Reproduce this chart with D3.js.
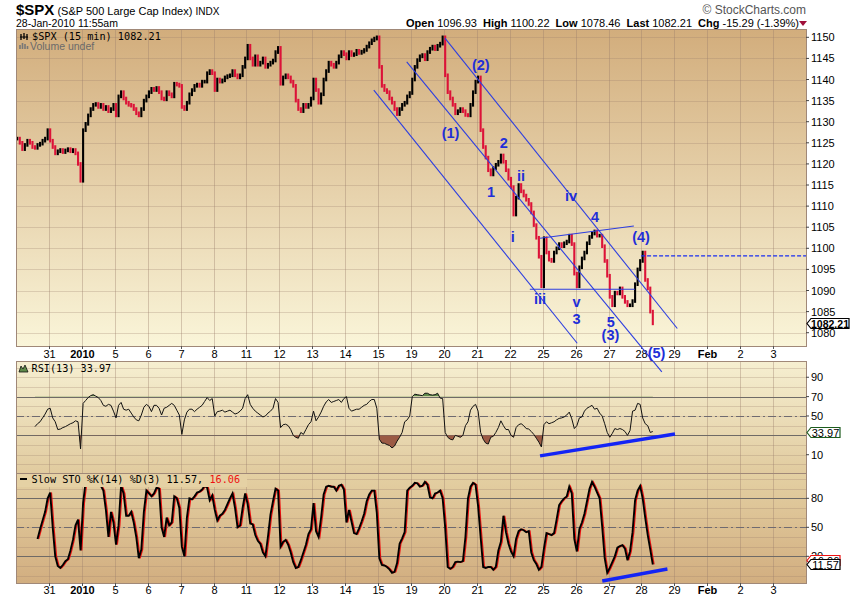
<!DOCTYPE html>
<html lang="en">
<head>
<meta charset="UTF-8">
<title>$SPX 15 min</title>
<style>
  body { margin: 0; background: #fff; }
  svg text { font-family: Arial, "Liberation Sans", sans-serif; }
  .mono { font-family: "DejaVu Sans Mono", monospace; font-size: 10.2px; }
</style>
</head>
<body>
<script src="https://d3js.org/d3.v7.min.js"></script>
<script>
// x axis: trading days from Dec 30 to Feb 3 (24 sessions), label at each session start
const tickLabels = ["31","2010","5","6","7","8","11","12","13","14","15","19","20","21","22","25","26","27","28","29","Feb","2","3"];
const boldTicks = ["2010", "Feb"];
const sessions = 24;
const perDay = 13; // half-hour closes per session

// closes, one row per session (Dec 30 ... Jan 28 11:55)
const closes = [
  1126, 1125, 1123.5, 1124.5, 1125.5, 1125, 1124, 1123.8, 1124.5, 1124.8, 1125.5, 1126, 1128,
  1125.5, 1124, 1122.5, 1123, 1123.3, 1122.8, 1123.2, 1123.5, 1123, 1123.3, 1122.5, 1120, 1116,
  1128, 1129.5, 1131.5, 1133, 1134, 1134.2, 1133.5, 1134, 1133, 1133.5, 1132.5, 1133, 1134,
  1131.5, 1136, 1137, 1135.5, 1134.5, 1134, 1133.8, 1133, 1132, 1131.5, 1133, 1135, 1136,
  1137, 1137.8, 1137.5, 1138, 1137, 1135.5, 1135.3, 1137, 1136.5, 1136, 1139, 1138.8, 1138.5,
  1133.5, 1133, 1134.5, 1136.5, 1137.5, 1138.5, 1138.8, 1138.5, 1139.5, 1139.5, 1141.5, 1142, 1141.5,
  1137.5, 1140, 1139.5, 1139.8, 1140.5, 1140.8, 1141, 1142, 1141, 1140.5, 1141, 1143, 1145,
  1148, 1145, 1143.5, 1145.5, 1143.5, 1144, 1145, 1143, 1143.5, 1144, 1144.5, 1146.5, 1147.5,
  1139, 1140.5, 1141, 1140.5, 1139.5, 1138.5, 1135, 1133, 1132.5, 1134, 1133.5, 1134, 1135.5,
  1140, 1137.5, 1134.5, 1136.5, 1140, 1142, 1144, 1143.5, 1143, 1144, 1145.5, 1146.5, 1146,
  1145, 1146.5, 1145.8, 1146, 1146.8, 1146.3, 1146.6, 1147, 1147.8, 1148.6, 1149.3, 1149.7, 1150,
  1143, 1138.5, 1137.5, 1137, 1135.5, 1134.5, 1133, 1131.8, 1133, 1134, 1134.5, 1136, 1136.8,
  1140, 1143, 1144.6, 1145.5, 1145.8, 1144.8, 1146.5, 1147.3, 1147.8, 1147.2, 1148, 1148.5, 1150,
  1141, 1137, 1135.5, 1134, 1132, 1132.5, 1133, 1132.5, 1131.6, 1131.5, 1134, 1137, 1139.5,
  1140.5, 1128, 1124, 1121.5, 1118.5, 1117.5, 1119, 1119.8, 1120.5, 1122, 1120.5, 1118.5, 1116.5,
  1114.5, 1108, 1112, 1115, 1113.5, 1112.5, 1111.5, 1110.5, 1108.5, 1105.5, 1102.5, 1098, 1091,
  1102.4, 1099, 1097.3, 1097, 1099, 1100, 1101, 1100.5, 1101.2, 1101.6, 1103, 1101, 1094,
  1091, 1095.5, 1097.6, 1099, 1101.2, 1102.7, 1103.5, 1104, 1103, 1103, 1100.5, 1097, 1093.5,
  1088.5, 1086.5, 1089.5, 1089.3, 1090.5, 1088.5, 1087.3, 1086.5, 1086.5, 1087.5, 1091.5, 1095, 1097,
  1099, 1092.5, 1090.5, 1085, 1082.21
];

const rsi = [
  null, null, null, null, null, null, null, 39, 42, 44, 48, 52, 57,
  58, 48, 44, 36, 36.5, 38, 39, 40.5, 42, 43, 45, 44, 16,
  63, 66, 69, 71, 72, 70.5, 69, 66, 61, 60, 62, 61, 55,
  48, 61, 64, 57, 56, 57, 53, 49, 46, 45, 51, 59, 62,
  60, 54.5, 61, 61, 58, 51, 58, 59, 61, 63, 61, 56, 51,
  31, 46, 54, 57, 57, 54.5, 57, 59, 61, 65, 69, 66, 68,
  50, 54.5, 55, 56, 54, 55, 56, 54, 52, 53, 55, 58, 68,
  72, 62, 58, 55, 53, 51, 49, 50, 53, 55, 58, 68, 64,
  38, 41, 41.5, 40, 36, 30, 28, 27, 33, 31, 36, 41, 44,
  55, 45, 49, 54, 60, 64.5, 67, 64, 65, 66, 67, 64, 68,
  70, 58, 55, 56, 57, 57, 59, 61, 62, 65, 67, 67, 58,
  26, 22, 21.8, 20.5, 19.5, 17, 19, 24, 28, 33, 44, 46, 50,
  70, 72.5, 72, 71.5, 71, 73.5, 73.5, 72, 71.6, 72, 73.5, 68.5, 68,
  33, 28, 26, 25.3, 30, 29, 28, 30, 40, 44, 56, 60, 62,
  55, 33, 26, 22, 21, 28, 29, 33, 38, 45, 40, 36, 36,
  30, 28, 38, 41, 42, 40, 37, 36.5, 34, 31, 27, 23, 18,
  41, 44, 42, 43, 44, 46, 47.5, 48, 49, 51, 54, 47, 37,
  40, 48, 49, 55, 58, 59.5, 61, 57, 58, 53, 50, 42, 33,
  28, 32, 37, 36, 37, 36, 34, 30, 35, 55, 56, 63, 62,
  48, 42, 40, 33, 33.97
];

// slow stochastic %K
const stoK = [
  null, null, null, null, null, null, null, null, 38, 48, 57, 66, 80,
  86, 50, 20, 10, 8, 11, 15, 17, 26, 37, 52, 58, 26,
  75, 97, 99, 100, 99, 98, 96, 93, 88, 68, 40, 66, 55,
  32, 52, 93, 85, 62, 62, 66, 55, 40, 18, 27, 66, 88,
  85, 82, 85, 91, 90, 50, 40, 60, 52, 55, 82, 80, 70,
  30, 20, 60, 80, 79, 82, 86, 87, 89, 93, 91, 78, 83,
  68, 57, 62, 64, 68, 74, 80, 85, 70, 50, 52, 70, 85,
  74, 54, 53, 42, 36, 33, 24, 20, 40, 63, 77, 90, 88,
  30, 35, 37, 32, 24, 14, 8, 9, 16, 24, 32, 43, 48,
  75, 46, 40, 60, 84, 92, 93, 92, 92, 88, 93, 94, 89,
  55, 68, 56, 44, 43, 49, 56, 64, 77, 84, 88, 88, 65,
  18, 11, 10.5, 9, 6.5, 3, 4, 13, 33, 38.6, 45, 88, 91,
  93, 96, 95.5, 92, 93, 97, 94, 81, 80, 85, 86, 88, 80,
  50, 9, 7, 9, 14, 14.5, 14, 15, 40, 80, 92, 96, 94,
  72, 40, 9, 8, 9, 9, 6, 9, 26, 35, 62, 45, 33,
  25, 20, 38, 46, 48, 47, 45, 46, 24, 16, 12, 6, 9,
  28, 44, 43, 42, 44, 58, 73, 77, 80, 82, 92, 85, 38,
  25, 48, 55, 64, 77, 90, 97, 92, 86, 80, 51, 18, 3,
  8, 14, 20, 29, 30.5, 31.5, 28, 16, 25, 45, 78, 88, 92.8,
  80, 60, 42, 27, 11.57
];

// hand-drawn Elliott wave markup: [session position, price]
const channels = [
  [[13.03, 1149.8], [20.09, 1081.0]],
  [[11.87, 1144.2], [19.62, 1070.7]],
  [[10.87, 1137.5], [17.05, 1077.5]],
  [[15.92, 1102.4], [18.77, 1105.3]],
  [[15.61, 1090.3], [18.80, 1090.3]]
];
const waveLabels = [
  ["(2)", 14.12, 1143.4], ["(1)", 13.20, 1127.3], ["2", 14.82, 1124.9], ["1", 14.43, 1113.4],
  ["ii", 15.34, 1117.2], ["i", 15.09, 1102.6], ["iv", 16.86, 1112.3], ["4", 17.59, 1107.5],
  ["iii", 15.92, 1087.9], ["v", 17.03, 1087.3], ["3", 17.03, 1083.2], ["5", 18.07, 1082.6],
  ["(3)", 18.06, 1079.5], ["(4)", 18.99, 1102.7], ["(5)", 19.46, 1075.1]
];
const wave4Level = 1098.2;
const rsiTrend = [[15.92, 8.8], [20.02, 31.4]];
const stoTrend = [[17.81, -5.5], [19.79, 6.9]];

const W = 850, H = 600;
const L = 16, R = 806;
const pP = {top: 29, bottom: 346}, pR = {top: 361, bottom: 473}, pS = {top: 473, bottom: 583};

const x = d3.scaleLinear().domain([0, sessions]).range([L, R]);
const yP = d3.scaleLinear().domain([1076.85, 1151.97]).range([pP.bottom, pP.top]);
const yR = d3.scaleLinear().domain([-8.9, 106.8]).range([pR.bottom, pR.top]);
const yS = d3.scaleLinear().domain([-7.6, 106.2]).range([pS.bottom, pS.top]);
const tAt = i => Math.floor(i / perDay) + ((i % perDay) + 0.5) / perDay;

const svg = d3.select("body").append("svg").attr("width", W).attr("height", H);
const defs = svg.append("defs");

function grad(id, c0, c1) {
  const g = defs.append("linearGradient").attr("id", id).attr("x1", 0).attr("y1", 0).attr("x2", 0).attr("y2", 1);
  g.append("stop").attr("offset", "0%").attr("stop-color", c0);
  g.append("stop").attr("offset", "100%").attr("stop-color", c1);
}
grad("gP", "#d2ad7c", "#faf5d9");
grad("gR", "#f6efd1", "#e1cb9f");
grad("gS", "#e4d0a3", "#d2ae80");

function panel(p, fill, y, step, lo, hi) {
  svg.append("rect").attr("x", L).attr("y", p.top).attr("width", R - L).attr("height", p.bottom - p.top)
    .attr("fill", `url(#${fill})`);
  svg.append("g").selectAll("line").data(d3.range(lo, hi + 0.01, step)).join("line")
    .attr("x1", L).attr("x2", R).attr("y1", d => Math.round(y(d)) + 0.5).attr("y2", d => Math.round(y(d)) + 0.5)
    .attr("stroke", "#9a7f6c").attr("stroke-opacity", 0.28);
  svg.append("g").selectAll("line").data(d3.range(1, sessions)).join("line")
    .attr("x1", d => Math.round(x(d)) + 0.5).attr("x2", d => Math.round(x(d)) + 0.5)
    .attr("y1", p.top).attr("y2", p.bottom)
    .attr("stroke", "#9a7f6c").attr("stroke-opacity", 0.38);
}

panel(pP, "gP", yP, 5, 1080, 1150);
panel(pR, "gR", yR, 10, 0, 100);
panel(pS, "gS", yS, 10, 0, 100);

// reference levels on indicator panes
function levels(y, solid, dashed) {
  svg.append("g").selectAll("line").data(solid).join("line")
    .attr("x1", L).attr("x2", R).attr("y1", d => Math.round(y(d)) + 0.5).attr("y2", d => Math.round(y(d)) + 0.5)
    .attr("stroke", "#6f6a66").attr("stroke-width", 1.2);
  svg.append("line").attr("x1", L).attr("x2", R)
    .attr("y1", Math.round(y(dashed)) + 0.5).attr("y2", Math.round(y(dashed)) + 0.5)
    .attr("stroke", "#6f6a70").attr("stroke-dasharray", "8,3,2,3");
}
levels(yR, [70, 30], 50);
levels(yS, [80, 20], 50);

// price bars (close to close, coloured by direction)
const bars = closes.map((c, i) => {
  const prev = i > 0 ? closes[i - 1] : c;
  return {t: tAt(i), hi: Math.max(prev, c), lo: Math.min(prev, c), up: c >= prev};
});
svg.append("g").selectAll("line").data(bars).join("line")
  .attr("x1", d => x(d.t)).attr("x2", d => x(d.t))
  .attr("y1", d => yP(d.hi) - 1.8).attr("y2", d => yP(d.lo) + 1.8)
  .attr("stroke", d => d.up ? "#000" : "#dc1238").attr("stroke-width", 2.1);

// RSI fills beyond 70 / 30
const rsiPts = rsi.map((v, i) => ({t: tAt(i), v}));
defs.append("clipPath").attr("id", "cLow").append("rect")
  .attr("x", L).attr("y", yR(30)).attr("width", R - L).attr("height", pR.bottom - yR(30));
defs.append("clipPath").attr("id", "cHigh").append("rect")
  .attr("x", L).attr("y", pR.top).attr("width", R - L).attr("height", yR(70) - pR.top);
svg.append("path").datum(rsiPts).attr("clip-path", "url(#cLow)")
  .attr("d", d3.area().defined(d => d.v != null).x(d => x(d.t)).y0(yR(30)).y1(d => yR(d.v)))
  .attr("fill", "#9b5a44");
svg.append("path").datum(rsiPts).attr("clip-path", "url(#cHigh)")
  .attr("d", d3.area().defined(d => d.v != null).x(d => x(d.t)).y0(yR(70)).y1(d => yR(d.v)))
  .attr("fill", "#5e8a4a");
svg.append("path").datum(rsiPts)
  .attr("d", d3.line().defined(d => d.v != null).x(d => x(d.t)).y(d => yR(d.v)))
  .attr("fill", "none").attr("stroke", "#111").attr("stroke-width", 1);

// slow stochastic: %D drawn as the %K trace one 15-min bar later, %K on top
const stoPts = stoK.map((v, i) => ({t: tAt(i), v}));
svg.append("path").datum(stoPts)
  .attr("d", d3.line().defined(d => d.v != null).x(d => x(d.t + 0.5 / perDay)).y(d => yS(d.v)))
  .attr("fill", "none").attr("stroke", "#ee1111").attr("stroke-width", 1.3);
svg.append("path").datum(stoPts)
  .attr("d", d3.line().defined(d => d.v != null).x(d => x(d.t)).y(d => yS(d.v)))
  .attr("fill", "none").attr("stroke", "#000").attr("stroke-width", 1.9);

// panel legends
svg.append("rect").attr("x", L + 1).attr("y", pS.top + 1).attr("width", 230).attr("height", 13).attr("fill", "#e5d1a4");
const lg = svg.append("g");
[[21, 34, 40], [24, 33, 39], [27, 34, 40]].forEach(d => lg.append("line").attr("x1", d[0]).attr("x2", d[0]).attr("y1", d[1]).attr("y2", d[2]).attr("stroke", "#000").attr("stroke-width", 1.3));
lg.append("line").attr("x1", 20).attr("x2", 28).attr("y1", 37).attr("y2", 37).attr("stroke", "#000");
lg.append("text").attr("class", "mono").attr("x", 32).attr("y", 39.5).text("$SPX (15 min) 1082.21");
[[20, 45, 49], [22.5, 43, 49], [25, 44, 49], [27.5, 46, 49]].forEach(d => lg.append("line").attr("x1", d[0]).attr("x2", d[0]).attr("y1", d[1]).attr("y2", d[2]).attr("stroke", "#777").attr("stroke-width", 1.6));
lg.append("text").attr("x", 30).attr("y", 49.5).attr("font-size", 10.5).attr("fill", "#6a6a6a").text("Volume undef");
lg.append("path").attr("d", "M19,372 L21,366 L23,369 L25,365 L28,372 Z").attr("fill", "#5e8a4a").attr("stroke", "#111").attr("stroke-width", 0.8);
lg.append("text").attr("class", "mono").attr("x", 31.5).attr("y", 372).text("RSI(13) 33.97");
lg.append("line").attr("x1", 20).attr("x2", 27).attr("y1", 479).attr("y2", 479).attr("stroke", "#000").attr("stroke-width", 2);
const st = lg.append("text").attr("class", "mono").attr("x", 31.5).attr("y", 483);
st.append("tspan").text("Slow STO %K(14) %D(3) 11.57, ");
st.append("tspan").attr("fill", "#ee1111").text("16.06");

// panel borders
[pP, pR, pS].forEach(p => svg.append("rect").attr("x", L + 0.5).attr("y", p.top + 0.5)
  .attr("width", R - L).attr("height", p.bottom - p.top).attr("fill", "none").attr("stroke", "#a08878"));

// right-hand value axes
function rightAxis(y, vals) {
  const g = svg.append("g").attr("font-size", 11);
  vals.forEach(v => {
    g.append("line").attr("x1", R).attr("x2", R + 3).attr("y1", y(v)).attr("y2", y(v)).attr("stroke", "#444");
    g.append("text").attr("x", R + 5).attr("y", y(v) + 4).text(v);
  });
}
rightAxis(yP, d3.range(1085, 1151, 5).concat([1080]));
rightAxis(yR, [90, 70, 50, 10]);
rightAxis(yS, [80, 50, 20]);

// date axes under the price pane and under the stochastic pane
function dateAxis(yTop, yText) {
  const g = svg.append("g").attr("font-size", 11).attr("text-anchor", "middle");
  tickLabels.forEach((lab, i) => {
    const xx = Math.round(x(i + 1)) + 0.5;
    g.append("line").attr("x1", xx).attr("x2", xx).attr("y1", yTop).attr("y2", yTop + 3).attr("stroke", "#555");
    g.append("text").attr("x", xx).attr("y", yText)
      .attr("font-weight", boldTicks.includes(lab) ? "bold" : "normal").text(lab);
  });
}
dateAxis(pP.bottom, 358);
dateAxis(pS.bottom, 594);

// last-value tags
function tag(y, v, txt, stroke, bold) {
  const cy = Math.round(y(v)) + 0.5;
  const w = bold ? 38 : 29;
  svg.append("path").attr("d", `M${R + 1},${cy} L${R + 5},${cy - 5} H${R + 5 + w} V${cy + 5} H${R + 5} Z`)
    .attr("fill", "#fff").attr("stroke", stroke).attr("stroke-width", 1.2);
  svg.append("text").attr("x", R + 5 + w / 2).attr("y", cy + 4).attr("text-anchor", "middle")
    .attr("font-size", bold ? 10.5 : 11).attr("font-weight", bold ? "bold" : "normal").text(txt);
}
tag(yP, closes[closes.length - 1], "1082.21", "#000", true);
tag(yR, rsi[rsi.length - 1], "33.97", "#1d5c1d", false);
tag(yS, 16.06, "16.06", "#ee1111", false);
tag(yS, stoK[stoK.length - 1], "11.57", "#000", false);

// wave markup
const blue = "#2d3ee0";
svg.append("g").selectAll("line").data(channels).join("line")
  .attr("x1", d => x(d[0][0])).attr("y1", d => yP(d[0][1]))
  .attr("x2", d => x(d[1][0])).attr("y2", d => yP(d[1][1]))
  .attr("stroke", blue).attr("stroke-width", 1.1);
svg.append("line").attr("x1", x(18.99)).attr("x2", R).attr("y1", yP(wave4Level)).attr("y2", yP(wave4Level))
  .attr("stroke", "#1a2ef0").attr("stroke-width", 1.2).attr("stroke-dasharray", "4,2");
svg.append("line").attr("x1", x(rsiTrend[0][0])).attr("y1", yR(rsiTrend[0][1]))
  .attr("x2", x(rsiTrend[1][0])).attr("y2", yR(rsiTrend[1][1]))
  .attr("stroke", "#1424f5").attr("stroke-width", 3.5);
svg.append("line").attr("x1", x(stoTrend[0][0])).attr("y1", yS(stoTrend[0][1]))
  .attr("x2", x(stoTrend[1][0])).attr("y2", yS(stoTrend[1][1]))
  .attr("stroke", "#1424f5").attr("stroke-width", 3.5);
svg.append("g").selectAll("text").data(waveLabels).join("text")
  .attr("x", d => x(d[1])).attr("y", d => yP(d[2]) + 5)
  .attr("text-anchor", "middle").attr("font-size", 14.5).attr("font-weight", "bold")
  .attr("fill", "#1f2fd8").text(d => d[0]);

// header
const hd = svg.append("g");
const t1 = hd.append("text").attr("x", 16).attr("y", 15);
t1.append("tspan").attr("font-size", 15).attr("font-weight", "bold").text("$SPX");
t1.append("tspan").attr("font-size", 11).text(" (S&P 500 Large Cap Index) ");
t1.append("tspan").attr("font-size", 10).text("INDX");
hd.append("text").attr("x", 16).attr("y", 26.5).attr("font-size", 10.5).text("28-Jan-2010 11:55am");
hd.append("text").attr("x", 806).attr("y", 14).attr("text-anchor", "end").attr("font-size", 12)
  .attr("fill", "#555").text("\u00A9 StockCharts.com");
const q = hd.append("text").attr("x", 406).attr("y", 26.5).attr("font-size", 11).attr("xml:space", "preserve");
[["Open", "1096.93"], ["High", "1100.22"], ["Low", "1078.46"], ["Last", "1082.21"], ["Chg", "-15.29 (-1.39%)"]]
  .forEach((d, i) => {
    q.append("tspan").attr("font-weight", "bold").text((i ? "  " : "") + d[0] + " ");
    q.append("tspan").text(d[1]);
  });
hd.append("path").attr("d", "M799,21 L807,21 L803,26 Z").attr("fill", "#a0103a");
</script>
</body>
</html>
